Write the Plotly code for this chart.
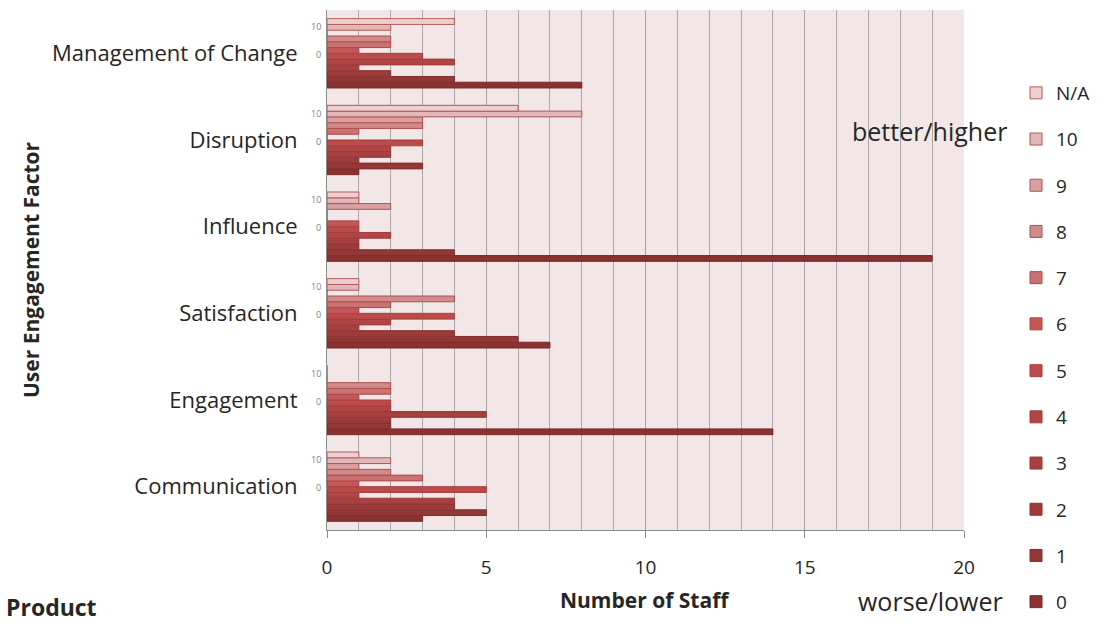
import plotly.graph_objects as go

# Engagement factors, listed top to bottom as they appear on the chart
factors = ["Management of Change", "Disruption", "Influence",
           "Satisfaction", "Engagement", "Communication"]

# Score bands, worst (0) to best (N/A last)
scores = ["0", "1", "2", "3", "4", "5", "6", "7", "8", "9", "10", "N/A"]

# Number of staff per score, one list per factor (same order as `factors`)
s0 = [8, 1, 19, 7, 14, 3]
s1 = [4, 3, 4, 6, 2, 5]
s2 = [2, 1, 1, 4, 2, 4]
s3 = [1, 2, 1, 1, 5, 4]
s4 = [4, 2, 2, 2, 2, 1]
s5 = [3, 3, 1, 4, 2, 5]
s6 = [1, 0, 1, 1, 1, 1]
s7 = [2, 1, 0, 2, 2, 3]
s8 = [2, 3, 0, 4, 2, 2]
s9 = [0, 3, 2, 0, 0, 1]
s10 = [2, 8, 1, 1, 0, 2]
s_na = [4, 6, 1, 1, 0, 1]

series = [s0, s1, s2, s3, s4, s5, s6, s7, s8, s9, s10, s_na]

colors = ["#8a3232", "#943737", "#9d3b3b", "#a74040", "#b14545", "#bb4a4a",
          "#c45757", "#ca7171", "#d18a8a", "#d8a0a0", "#e1b7b7", "#ecd0d0"]
edges = ["#7a2a2a", "#842e2e", "#8c3333", "#963737", "#9e3b3b", "#a63f3f",
         "#aa4444", "#ad4a4a", "#b04f4f", "#b25353", "#b45656", "#b65a5a"]

x_ticks = [0, 5, 10, 15, 20]

FONT = "Open Sans"
TXT = "#262626"

fig = go.Figure()
for i, (name, vals, col, edge) in enumerate(zip(scores, series, colors, edges)):
    fig.add_trace(go.Bar(
        y=factors, x=vals, name=name, orientation="h",
        legendgroup=name,
        legendrank=100 - i,           # best score listed first
        legend="legend" if i >= 6 else "legend2",
        marker=dict(color=col, line=dict(color=edge, width=1)),
        hovertemplate="%{y}<br>Score " + name + ": %{x}<extra></extra>",
    ))

# plot area spans x 327..964 px and y 10..530 px of the 1099x622 page
W, H = 1099, 622
L, R, T, B = 327, 964, 10, 530
pw, ph = R - L, B - T


def px_x(x):
    return (x - L) / pw


def px_y(y):
    return 1 - (y - T) / ph


annotations = []
# small inner scale marks beside each group
for f in factors:
    annotations.append(dict(text="10", x=px_x(323), y=f, xref="paper", yref="y",
                            xanchor="right", yanchor="middle", yshift=27,
                            showarrow=False, font=dict(family=FONT, size=9, color="#7f7f7f")))
    annotations.append(dict(text="0", x=px_x(323), y=f, xref="paper", yref="y",
                            xanchor="right", yanchor="middle", yshift=-1,
                            showarrow=False, font=dict(family=FONT, size=9, color="#7f7f7f")))

annotations += [
    dict(text="<b>User Engagement Factor</b>", x=px_x(31), y=px_y(270),
         xref="paper", yref="paper", textangle=-90, showarrow=False,
         xanchor="center", yanchor="middle",
         font=dict(family=FONT, size=21, color=TXT)),
    dict(text="<b>Number of Staff</b>", x=px_x(645), y=px_y(600),
         xref="paper", yref="paper", showarrow=False,
         xanchor="center", yanchor="middle",
         font=dict(family=FONT, size=21, color=TXT)),
    dict(text="<b>Product</b>", x=px_x(4), y=px_y(607),
         xref="paper", yref="paper", showarrow=False,
         xanchor="left", yanchor="middle",
         font=dict(family=FONT, size=23, color=TXT)),
    dict(text="better/higher", x=px_x(850), y=px_y(131),
         xref="paper", yref="paper", showarrow=False,
         xanchor="left", yanchor="middle",
         font=dict(family=FONT, size=25, color=TXT)),
    dict(text="worse/lower", x=px_x(856), y=px_y(601),
         xref="paper", yref="paper", showarrow=False,
         xanchor="left", yanchor="middle",
         font=dict(family=FONT, size=25, color=TXT)),
]

legend_style = dict(
    traceorder="grouped",
    tracegroupgap=18.5,
    x=px_x(1016), xanchor="left", yanchor="top",
    font=dict(family=FONT, size=19, color=TXT),
    bgcolor="rgba(0,0,0,0)",
    itemclick=False, itemdoubleclick=False,
)

fig.update_layout(
    width=W, height=H,
    margin=dict(l=L, r=W - R, t=T, b=H - B, pad=0, autoexpand=False),
    paper_bgcolor="white",
    plot_bgcolor="#f2e6e6",
    barmode="group",
    bargap=0.2,
    bargroupgap=0,
    font=dict(family=FONT, color=TXT),
    showlegend=True,
    legend=dict(legend_style, y=px_y(74)),
    legend2=dict(legend_style, y=px_y(74 + 6 * 46.3)),
    annotations=annotations,
)

fig.update_xaxes(
    range=[0, 20],
    tickvals=x_ticks,
    ticktext=[str(v) for v in x_ticks],
    showgrid=True, gridcolor="#a3a3a3", gridwidth=1,
    minor=dict(dtick=1, showgrid=True, gridcolor="#a9a9a9", gridwidth=1),
    showline=True, linecolor="#8c8c8c", linewidth=1,
    ticks="outside", ticklen=7, tickcolor="#8c8c8c",
    ticklabelstandoff=13,
    tickfont=dict(family=FONT, size=19, color=TXT),
    zeroline=False,
    fixedrange=True,
)

fig.update_yaxes(
    categoryorder="array",
    categoryarray=factors[::-1],
    showline=True, linecolor="#8c8c8c", linewidth=1,
    showgrid=False,
    ticks="",
    ticklabelstandoff=24,
    tickfont=dict(family=FONT, size=22, color=TXT),
    fixedrange=True,
)

fig.write_html("out.html")
